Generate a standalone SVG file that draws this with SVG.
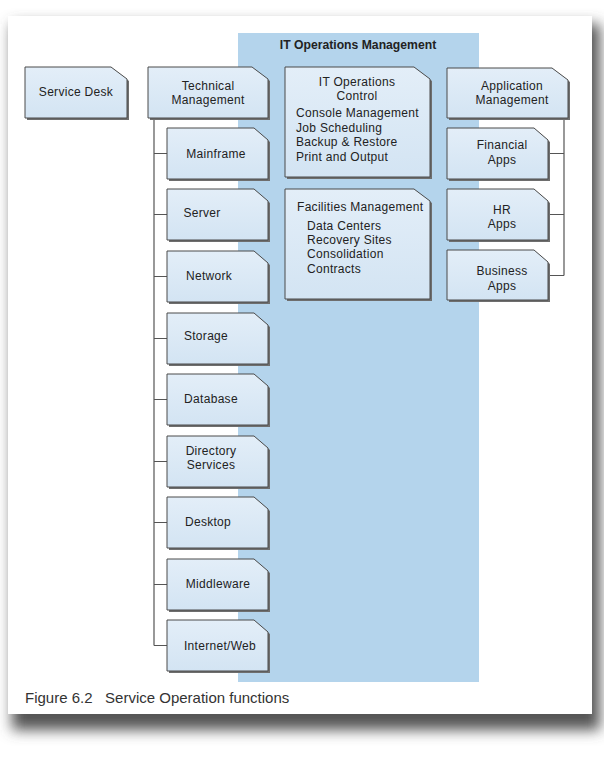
<svg xmlns="http://www.w3.org/2000/svg" width="604" height="768" viewBox="0 0 604 768">
<defs>
<filter id="blur" x="-10%" y="-10%" width="120%" height="120%"><feGaussianBlur stdDeviation="7"/></filter>
<linearGradient id="boxg" x1="0" y1="0" x2="0" y2="1"><stop offset="0" stop-color="#e3eef8"/><stop offset="1" stop-color="#d3e4f3"/></linearGradient>
</defs>
<style>
.box{fill:url(#boxg);stroke:#4a4a4a;stroke-width:1}
.sh{fill:#6e6e6e}
.t{font-family:"Liberation Sans",Arial,sans-serif;font-size:12px;letter-spacing:0.3px;fill:#222;text-anchor:middle}
.l{font-family:"Liberation Sans",Arial,sans-serif;font-size:12px;letter-spacing:0.3px;fill:#222}
.conn{stroke:#555;stroke-width:1.2;fill:none}
</style>
<rect width="604" height="768" fill="#ffffff"/>
<rect x="12" y="24" width="588" height="706" fill="#555" filter="url(#blur)"/>
<rect x="8" y="16" width="584" height="698" fill="#ffffff"/>
<rect id="band" x="238" y="33" width="241" height="649" fill="#b4d4ec"/>
<text x="358" y="49" style="font-family:'Liberation Sans',Arial,sans-serif;font-size:12.2px;font-weight:bold;fill:#222;text-anchor:middle">IT Operations Management</text>
<g id="connectors">
<path class="conn" d="M154 118V645.5M154 153.5H167M154 214.5H167M154 276.5H167M154 338.5H167M154 399.5H167M154 461.5H167M154 522.5H167M154 584.5H167M154 645.5H167"/>
<path class="conn" d="M564 119V275.5M549 153.5H564M549 214.5H564M549 275.5H564"/>
</g>
<g id="service-desk"><path class="sh" d="M27 69H113L129 81V120H27Z"/><path class="box" d="M25 67H111L127 79V118H25Z"/><text class="t" x="76" y="96">Service Desk</text></g>
<g id="technical-management"><path class="sh" d="M150 69H254L270 81V120H150Z"/><path class="box" d="M148 67H252L268 79V118H148Z"/><text class="t" x="208" y="90">Technical</text><text class="t" x="208" y="104">Management</text></g>
<g id="mainframe"><path class="sh" d="M169 130H256L270 142V181H169Z"/><path class="box" d="M167 128H254L268 140V179H167Z"/><text class="t" x="216" y="157.5">Mainframe</text></g>
<g id="server"><path class="sh" d="M169 191H256L270 203V242H169Z"/><path class="box" d="M167 189H254L268 201V240H167Z"/><text class="t" x="202" y="216.5">Server</text></g>
<g id="network"><path class="sh" d="M169 253H256L270 265V304H169Z"/><path class="box" d="M167 251H254L268 263V302H167Z"/><text class="t" x="209" y="279.5">Network</text></g>
<g id="storage"><path class="sh" d="M169 315H256L270 327V366H169Z"/><path class="box" d="M167 313H254L268 325V364H167Z"/><text class="t" x="206" y="339.5">Storage</text></g>
<g id="database"><path class="sh" d="M169 376H256L270 388V427H169Z"/><path class="box" d="M167 374H254L268 386V425H167Z"/><text class="t" x="211" y="402.5">Database</text></g>
<g id="directory-services"><path class="sh" d="M169 438H256L270 450V489H169Z"/><path class="box" d="M167 436H254L268 448V487H167Z"/><text class="t" x="211" y="454.5">Directory</text><text class="t" x="211" y="469">Services</text></g>
<g id="desktop"><path class="sh" d="M169 499H256L270 511V550H169Z"/><path class="box" d="M167 497H254L268 509V548H167Z"/><text class="t" x="208" y="525.5">Desktop</text></g>
<g id="middleware"><path class="sh" d="M169 561H256L270 573V612H169Z"/><path class="box" d="M167 559H254L268 571V610H167Z"/><text class="t" x="218" y="587.5">Middleware</text></g>
<g id="internet-web"><path class="sh" d="M169 622H256L270 634V673H169Z"/><path class="box" d="M167 620H254L268 632V671H167Z"/><text class="t" x="220" y="649.5">Internet/Web</text></g>
<g id="it-operations-control"><path class="sh" d="M287 69H416L432 81V179H287Z"/><path class="box" d="M285 67H414L430 79V177H285Z"/><text class="t" x="357" y="86">IT Operations</text><text class="t" x="357" y="100">Control</text><text class="l" x="296" y="117">Console Management</text><text class="l" x="296" y="131.5">Job Scheduling</text><text class="l" x="296" y="146">Backup &amp; Restore</text><text class="l" x="296" y="160.5">Print and Output</text></g>
<g id="facilities-management"><path class="sh" d="M287 191H416L432 203V301H287Z"/><path class="box" d="M285 189H414L430 201V299H285Z"/><text class="l" x="297" y="211">Facilities Management</text><text class="l" x="307" y="230">Data Centers</text><text class="l" x="307" y="244">Recovery Sites</text><text class="l" x="307" y="258">Consolidation</text><text class="l" x="307" y="273">Contracts</text></g>
<g id="application-management"><path class="sh" d="M449 70H554L570 82V120H449Z"/><path class="box" d="M447 68H552L568 80V118H447Z"/><text class="t" x="512" y="90">Application</text><text class="t" x="512" y="104">Management</text></g>
<g id="financial-apps"><path class="sh" d="M449 130H536L550 142V181H449Z"/><path class="box" d="M447 128H534L548 140V179H447Z"/><text class="t" x="502" y="149">Financial</text><text class="t" x="502" y="164">Apps</text></g>
<g id="hr-apps"><path class="sh" d="M449 191H536L550 203V242H449Z"/><path class="box" d="M447 189H534L548 201V240H447Z"/><text class="t" x="502" y="214">HR</text><text class="t" x="502" y="228">Apps</text></g>
<g id="business-apps"><path class="sh" d="M449 252H536L550 264V302H449Z"/><path class="box" d="M447 250H534L548 262V300H447Z"/><text class="t" x="502" y="275">Business</text><text class="t" x="502" y="290">Apps</text></g>
<text x="25" y="703" style="font-family:'Liberation Sans',Arial,sans-serif;font-size:15px;fill:#333" xml:space="preserve">Figure 6.2   Service Operation functions</text>
</svg>
